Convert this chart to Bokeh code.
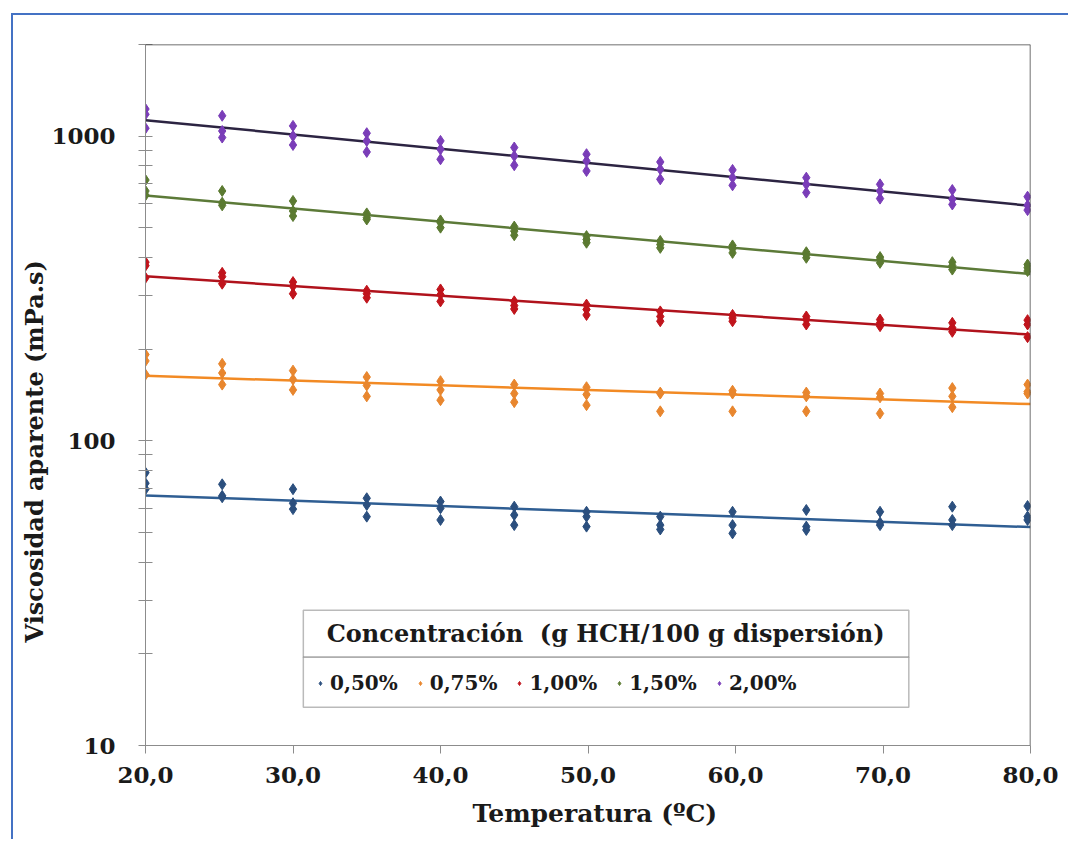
import numpy as np
from bokeh.plotting import figure
from bokeh.models import (FixedTicker, Span, BoxAnnotation, Label, Legend, LegendItem,
                          CustomJSTickFormatter, Title)
from bokeh.embed import file_html
from bokeh.resources import INLINE

# Temperatures (ºC) at which viscosity was measured
temperatura = [20.0, 25.2, 30.0, 35.0, 40.0, 45.0, 49.9, 54.9, 59.8, 64.8, 69.8, 74.7, 79.8]

# Apparent viscosity (mPa.s), three replicates per temperature
visc_050 = [[78.6, 72.6, 69.4], [72.0, 66.0, 65.3], [69.4, 62.4, 59.7], [64.8, 61.6, 56.4],
            [63.2, 60.1, 55.0], [60.8, 57.1, 52.9], [58.5, 56.4, 52.3], [56.4, 52.9, 51.2],
            [58.5, 52.9, 49.7], [59.3, 52.3, 51.0], [58.5, 53.9, 52.9], [60.8, 55.0, 52.9],
            [61.1, 56.4, 55.0]]
visc_075 = [[192, 183, 165], [179, 167, 153], [170, 159, 147], [162, 152, 140],
            [157, 147, 136], [153, 143, 134], [150, 142, 131], [144, 143, 125],
            [146, 143, 125], [144, 140, 125], [143, 139, 123], [149, 140, 129],
            [153, 145, 143]]
visc_100 = [[386, 376, 343], [356, 346, 328], [332, 322, 304], [311, 304, 295],
            [314, 302, 287], [287, 278, 271], [280, 270, 259], [266, 256, 247],
            [259, 253, 247], [256, 250, 241], [250, 244, 238], [244, 235, 228],
            [249, 241, 219]]
visc_150 = [[718, 661, 640], [661, 605, 593], [613, 568, 547], [558, 540, 533],
            [529, 520, 501], [505, 488, 473], [470, 458, 447], [453, 441, 430],
            [438, 427, 414], [416, 409, 399], [401, 394, 384], [386, 376, 365],
            [379, 370, 361]]
visc_200 = [[1228, 1180, 1062], [1167, 1040, 990], [1081, 1002, 936], [1023, 965, 888],
            [965, 906, 840], [918, 861, 803], [873, 829, 769], [823, 779, 722],
            [775, 731, 690], [731, 695, 653], [695, 661, 624], [666, 621, 597],
            [633, 593, 572]]

etiquetas = ["0,50%", "0,75%", "1,00%", "1,50%", "2,00%"]
series = [visc_050, visc_075, visc_100, visc_150, visc_200]
color_punto = ["#2B4F7E", "#E8862E", "#C0141C", "#5B7A31", "#7A3DB8"]
color_linea = ["#2F5E93", "#F28A24", "#B0121C", "#5C7A38", "#2C2442"]

FONT = "DejaVu Serif"
INK = "#1A1A1A"

p = figure(width=1057, height=826, y_axis_type="log",
           x_range=(20, 80), y_range=(10, 2000),
           output_backend="svg", toolbar_location=None,
           min_border_left=132, min_border_right=40,
           min_border_top=29, min_border_bottom=96,
           background_fill_color="white", border_fill_color="white",
           outline_line_color=None,
           styles={"margin-left": "11px", "margin-top": "13px",
                   "border-left": "2px solid #4472C4",
                   "border-top": "2px solid #4472C4"})
p.grid.visible = False

items = []
for nombre, datos, cp, cl in zip(etiquetas, series, color_punto, color_linea):
    xs = [t for t, rep in zip(temperatura, datos) for _ in rep]
    ys = [v for rep in datos for v in rep]
    # exponential trend line: least squares on log10(viscosity)
    b, a = np.polyfit(xs, np.log10(ys), 1)
    xt = np.array([temperatura[0], 80.0])
    p.line(xt, 10 ** (a + b * xt), line_color=cl, line_width=2.5)
    # small swatch for the legend, sitting under the first full-size marker
    sw = p.scatter(xs[:1], ys[:1], marker="diamond", size=8, fill_color=cp, line_color=cp)
    p.scatter(xs, ys, marker="diamond", size=11, fill_color=cp, line_color=cp)
    items.append(LegendItem(label=nombre, renderers=[sw]))

# frame edges on top and right
p.add_layout(Span(location=80, dimension="height", line_color="#404040", line_width=1.5))
p.add_layout(Span(location=2000, dimension="width", line_color="#404040", line_width=1.5))

# axes
xa = p.xaxis[0]
xa.ticker = FixedTicker(ticks=[20, 30, 40, 50, 60, 70, 80])
xa.formatter = CustomJSTickFormatter(code="return tick.toFixed(1).replace('.', ',');")
ya = p.yaxis[0]
ya.ticker = FixedTicker(ticks=[10, 100, 1000],
                        minor_ticks=[20, 30, 40, 50, 60, 70, 80, 90,
                                     200, 300, 400, 500, 600, 700, 800, 900, 2000])
ya.formatter = CustomJSTickFormatter(code="return tick.toFixed(0);")

for ax in (xa, ya):
    ax.axis_line_color = "#8C8C8C"
    ax.major_tick_line_color = "#8C8C8C"
    ax.minor_tick_line_color = "#8C8C8C"
    ax.major_label_text_font = FONT
    ax.major_label_text_font_style = "bold"
    ax.major_label_text_font_size = "23px"
    ax.major_label_text_color = INK

xa.major_tick_in = 0
xa.major_tick_out = 8
xa.minor_tick_in = 0
xa.minor_tick_out = 0
xa.major_label_standoff = 13

ya.major_tick_in = 7
ya.major_tick_out = 7
ya.minor_tick_in = 7
ya.minor_tick_out = 7
ya.major_label_standoff = 23

# axis titles
p.add_layout(Title(text="Temperatura (ºC)", align="left", offset=327, standoff=23,
                   text_font=FONT, text_font_style="bold",
                   text_font_size="25px", text_color=INK), "below")
p.add_layout(Title(text="Viscosidad aparente (mPa.s)", align="left", offset=103, standoff=0,
                   text_font=FONT, text_font_style="bold",
                   text_font_size="24px", text_color=INK), "left")

# legend: title box above, entries box below
p.add_layout(BoxAnnotation(left=30.7, right=71.75, bottom=19.5, top=27.8,
                           fill_color="white", fill_alpha=1.0,
                           line_color=INK, line_width=1.5))
p.add_layout(BoxAnnotation(left=30.7, right=71.75, bottom=13.35, top=19.5,
                           fill_color="white", fill_alpha=1.0,
                           line_color=INK, line_width=1.5))
p.add_layout(Label(x=51.2, y=23.3, text="Concentración\u00a0 (g HCH/100 g dispersión)",
                   text_align="center", text_baseline="middle",
                   text_font=FONT, text_font_style="bold",
                   text_font_size="24px", text_color=INK))

legend = Legend(items=items, orientation="horizontal", location=(170, 50),
                border_line_color=None, background_fill_alpha=0,
                label_text_font=FONT, label_text_font_style="bold",
                label_text_font_size="20px", label_text_color=INK,
                glyph_width=10, glyph_height=20, label_standoff=5, spacing=17,
                padding=0, margin=0)
p.add_layout(legend)

open("out.html", "w").write(file_html(p, INLINE))
